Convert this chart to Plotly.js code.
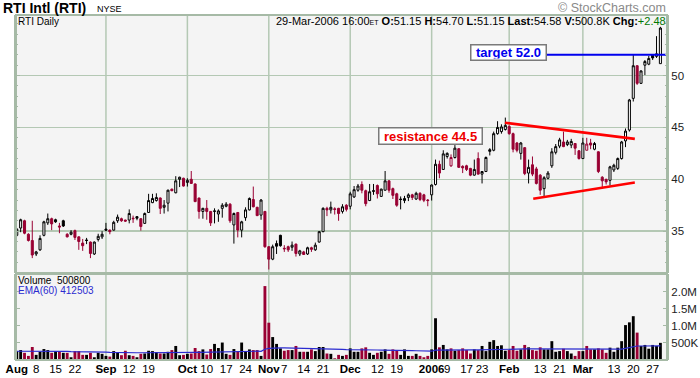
<!DOCTYPE html>
<html>
<head>
<meta charset="utf-8">
<script src="https://cdn.plot.ly/plotly-3.0.1.min.js"></script>
<style>html,body{margin:0;padding:0;background:#fff;}#chart{width:700px;height:378px;}</style>
</head>
<body>
<div id="chart"></div>
<script>
// ---------- DATA ----------
const dates = [
"2005-08-01","2005-08-02","2005-08-03","2005-08-04","2005-08-05","2005-08-08","2005-08-09","2005-08-10","2005-08-11","2005-08-12",
"2005-08-15","2005-08-16","2005-08-17","2005-08-18","2005-08-19","2005-08-22","2005-08-23","2005-08-24","2005-08-25","2005-08-26",
"2005-08-29","2005-08-30","2005-08-31",
"2005-09-01","2005-09-02","2005-09-06","2005-09-07","2005-09-08","2005-09-09","2005-09-12","2005-09-13","2005-09-14","2005-09-15",
"2005-09-16","2005-09-19","2005-09-20","2005-09-21","2005-09-22","2005-09-23","2005-09-26","2005-09-27","2005-09-28","2005-09-29","2005-09-30",
"2005-10-03","2005-10-04","2005-10-05","2005-10-06","2005-10-07","2005-10-10","2005-10-11","2005-10-12","2005-10-13","2005-10-14",
"2005-10-17","2005-10-18","2005-10-19","2005-10-20","2005-10-21","2005-10-24","2005-10-25","2005-10-26","2005-10-27","2005-10-28","2005-10-31",
"2005-11-01","2005-11-02","2005-11-03","2005-11-04","2005-11-07","2005-11-08","2005-11-09","2005-11-10","2005-11-11","2005-11-14",
"2005-11-15","2005-11-16","2005-11-17","2005-11-18","2005-11-21","2005-11-22","2005-11-23","2005-11-25","2005-11-28","2005-11-29","2005-11-30",
"2005-12-01","2005-12-02","2005-12-05","2005-12-06","2005-12-07","2005-12-08","2005-12-09","2005-12-12","2005-12-13","2005-12-14",
"2005-12-15","2005-12-16","2005-12-19","2005-12-20","2005-12-21","2005-12-22","2005-12-23","2005-12-27","2005-12-28","2005-12-29","2005-12-30",
"2006-01-03","2006-01-04","2006-01-05","2006-01-06","2006-01-09","2006-01-10","2006-01-11","2006-01-12","2006-01-13","2006-01-17",
"2006-01-18","2006-01-19","2006-01-20","2006-01-23","2006-01-24","2006-01-25","2006-01-26","2006-01-27","2006-01-30","2006-01-31",
"2006-02-01","2006-02-02","2006-02-03","2006-02-06","2006-02-07","2006-02-08","2006-02-09","2006-02-10","2006-02-13","2006-02-14",
"2006-02-15","2006-02-16","2006-02-17","2006-02-21","2006-02-22","2006-02-23","2006-02-24","2006-02-27","2006-02-28",
"2006-03-01","2006-03-02","2006-03-03","2006-03-06","2006-03-07","2006-03-08","2006-03-09","2006-03-10","2006-03-13","2006-03-14",
"2006-03-15","2006-03-16","2006-03-17","2006-03-20","2006-03-21","2006-03-22","2006-03-23","2006-03-24","2006-03-27","2006-03-28","2006-03-29"
];

const openP = [
34.6,35.3,36.0,34.7,34.1,32.8,33.2,34.6,35.8,36.2,36.1,35.5,36.0,34.7,34.7,35.05,34.45,33.85,34.15,33.95,
32.8,34.2,34.45,35.2,35.1,35.1,36.0,36.2,36.07,36.07,36.25,36.4,36.2,35.75,36.8,37.75,37.95,38.2,37.3,37.7,
39.05,38.7,40.0,40.1,39.7,40.0,39.55,38.2,36.9,37.2,36.9,36.95,36.65,37.2,37.4,37.6,35.6,36.8,35.1,36.3,
37.05,38.05,37.3,36.55,36.9,33.5,32.3,33.8,34.6,33.35,33.5,33.45,33.75,32.8,33.0,32.8,33.4,33.2,33.95,34.95,
37.2,37.05,37.15,37.2,36.9,37.5,37.4,38.3,38.95,39.5,38.9,37.95,38.9,39.4,38.35,38.95,39.85,39.1,38.6,38.1,
37.95,38.25,38.5,38.1,38.65,38.5,38.0,38.5,39.5,41.45,40.95,42.2,41.3,42.1,42.95,41.25,41.3,41.05,40.4,42.0,
40.5,40.75,42.85,42.8,44.4,44.6,44.8,45.1,44.4,43.5,42.5,43.05,40.6,41.4,41.0,40.4,39.1,40.1,41.3,42.6,
43.2,43.6,43.35,43.3,43.45,42.75,42.0,42.8,43.5,42.9,42.65,40.2,40.0,39.9,40.9,41.05,42.0,43.7,44.75,47.8,
50.95,49.25,51.0,51.1,52.0,51.85,51.15
];
const highP = [
35.3,36.2,36.1,34.8,36.0,33.1,34.6,36.0,36.7,36.3,36.2,35.8,36.1,34.8,35.1,35.15,34.5,34.25,34.35,34.0,
34.0,34.75,35.0,35.8,35.15,36.0,36.6,36.3,36.1,37.1,36.5,36.45,36.25,36.8,38.6,38.6,38.65,38.25,38.0,39.0,
39.1,40.3,40.25,40.15,40.1,40.8,39.6,38.2,37.25,38.0,36.95,37.2,37.1,37.7,37.8,37.7,36.8,36.85,36.0,37.3,
38.25,39.3,37.35,38.1,36.95,33.55,33.7,34.1,34.65,33.65,33.6,34.0,33.8,33.2,33.1,33.5,33.5,33.9,35.0,37.3,
37.35,37.85,37.3,37.25,37.6,37.6,38.8,39.35,39.55,39.8,39.0,39.55,39.55,39.5,39.1,40.8,39.9,39.2,38.7,38.35,
38.4,38.65,38.6,38.8,38.75,38.6,38.1,39.5,41.9,41.8,42.8,42.6,42.4,43.3,43.0,41.35,41.4,41.1,41.9,42.6,
40.8,42.2,43.0,44.6,45.6,45.3,45.95,45.2,44.5,43.6,43.6,43.1,41.9,42.2,41.2,40.5,40.3,40.8,43.0,43.4,
44.0,44.6,43.8,43.9,43.5,42.8,44.0,44.0,43.9,43.6,42.7,40.3,40.05,41.3,41.5,42.1,43.7,44.9,47.75,52.0,
51.0,50.5,51.5,51.9,52.05,53.8,54.7
];
const lowP = [
34.5,34.9,34.7,34.0,32.4,32.6,33.1,34.5,35.6,35.1,35.8,34.8,35.4,34.4,34.6,34.15,33.2,33.1,33.75,32.4,
32.7,34.0,34.25,35.0,34.7,35.05,35.8,35.9,35.9,35.75,35.8,36.05,35.05,35.7,36.8,37.7,37.85,36.65,36.7,36.9,
38.85,38.65,39.25,39.3,39.3,39.55,37.8,36.2,36.2,36.1,35.5,35.75,35.9,36.3,37.3,35.8,33.8,34.4,34.4,36.0,
37.0,37.3,36.45,36.1,33.4,31.3,32.2,32.8,33.5,33.0,33.0,33.1,32.55,32.6,32.7,32.7,33.0,33.1,33.9,34.9,
36.45,36.7,36.6,36.0,36.7,36.9,37.1,38.2,38.8,38.65,37.4,37.9,38.5,38.15,38.3,38.9,38.7,38.1,37.35,37.1,
37.7,37.9,38.0,38.0,37.9,37.8,37.4,37.95,39.4,40.1,40.9,42.0,41.2,42.0,41.1,40.6,40.8,40.3,40.35,40.45,
39.6,40.7,42.3,42.7,44.3,44.4,44.7,44.3,42.6,42.6,41.9,40.4,39.6,40.3,39.5,38.5,38.3,40.0,41.1,42.4,
43.0,43.1,43.2,43.0,42.35,41.9,41.95,42.8,42.9,42.8,40.6,39.1,39.5,39.4,40.7,40.9,41.9,43.1,44.6,47.5,
49.1,49.2,50.05,51.0,51.5,51.7,51.15
];
const closeP = [
35.2,36.1,34.8,34.1,32.7,33.0,34.3,35.9,36.2,35.7,35.9,35.4,35.5,34.45,34.9,34.4,34.0,33.6,34.1,32.85,
33.95,34.5,34.7,35.1,34.95,35.85,36.35,36.0,35.97,36.7,36.2,36.25,35.45,36.7,37.95,38.15,38.25,37.2,37.5,38.95,
38.9,39.85,40.2,39.35,39.9,39.6,37.85,36.9,37.2,36.9,35.8,36.92,36.95,37.5,37.6,36.0,36.7,35.1,35.9,37.05,
38.15,37.35,36.5,38.0,33.5,32.3,33.5,33.55,33.6,33.3,33.2,33.65,32.85,33.1,32.75,33.4,33.25,33.65,34.95,37.2,
37.05,37.3,37.1,36.7,37.35,37.1,38.6,39.0,39.35,38.95,37.65,38.8,38.85,38.6,39.05,39.85,38.95,38.45,37.5,38.05,
38.15,38.5,38.25,38.65,38.05,37.98,37.95,39.45,41.45,40.6,42.45,42.5,42.1,43.0,41.15,41.1,40.95,40.4,40.95,40.5,
40.75,42.1,42.7,44.4,45.0,45.05,45.2,44.4,42.9,42.8,43.5,40.55,41.15,40.5,39.6,38.95,40.15,40.6,42.65,43.15,
43.8,43.15,43.6,43.65,43.0,42.0,43.5,43.4,43.3,43.45,40.75,39.85,39.75,41.2,41.35,42.0,43.6,44.65,47.65,50.95,
49.25,50.45,51.35,51.65,51.7,52.1,54.58
];
// volume in thousands of shares
const volumeK = [
260,290,210,120,380,150,240,320,290,210,260,260,210,210,80,260,260,150,150,210,
80,210,180,120,100,260,210,140,270,140,120,80,180,190,270,260,230,190,190,240,
290,410,140,150,180,190,350,260,310,160,320,470,350,510,180,150,320,260,510,260,
310,290,290,120,2160,1090,670,470,340,270,290,290,410,240,240,240,310,260,380,380,
190,180,50,150,120,150,340,240,240,340,370,210,150,210,240,310,180,310,270,150,
310,120,120,180,120,80,120,310,1220,370,440,310,340,270,290,340,290,190,310,290,
410,260,530,580,410,430,270,290,410,270,310,440,370,290,270,370,310,310,550,240,
260,330,260,190,120,260,260,410,310,310,340,310,210,360,240,360,550,1020,1100,1280,
800,410,440,330,440,410,500.8
];
const emaStartK = 255;   // EMA(60) level at the left edge
const emaPeriod = 60;

// x-axis labels
const tickDates = ["2005-08-01","2005-08-08","2005-08-15","2005-08-22","2005-09-01","2005-09-12","2005-09-19",
"2005-10-03","2005-10-10","2005-10-17","2005-10-24","2005-11-01","2005-11-07","2005-11-14","2005-11-21",
"2005-12-01","2005-12-12","2005-12-19","2006-01-03","2006-01-09","2006-01-17","2006-01-23",
"2006-02-01","2006-02-13","2006-02-21","2006-03-01","2006-03-13","2006-03-20","2006-03-27"];
const tickText = ["<b>Aug</b>","8","15","22","<b>Sep</b>","12","19","<b>Oct</b>","10","17","24","<b>Nov</b>","7","14","21",
"<b>Dec</b>","12","19","<b>2006</b>","9","17","23","<b>Feb</b>","13","21","<b>Mar</b>","13","20","27"];
const monthStarts = ["2005-09-01","2005-10-03","2005-11-01","2005-12-01","2006-01-03","2006-02-01","2006-03-01"];
const priceTicks = [35,40,45,50];
const volTicks = [500,1000,1500,2000];
const volTickText = ["500K","1.0M","1.5M","2.0M"];

// drawn trend lines (trading-day position, price)
const upperTrendX = [125.9, 159.4], upperTrendY = [45.45, 43.9];
const lowerTrendX = [133.2, 159.4], lowerTrendY = [38.13, 39.7];
const targetX = [136.7, 168.5], targetY = [52.0, 52.0];

// ---------- BUILD ----------
const RED = '#990033', GRID = '#b4c8b4', FRAME = '#a6baa6';
const FONT = 'Liberation Sans, Arial, sans-serif';
const idx = dates.map((d, i) => i);
const isUp = closeP.map((c, i) => i === 0 || c >= closeP[i - 1]);

function subset(flag) {
  const o = {x: [], open: [], high: [], low: [], close: []};
  idx.forEach(i => {
    if (isUp[i] === flag) {
      o.x.push(i); o.open.push(openP[i]); o.high.push(highP[i]); o.low.push(lowP[i]); o.close.push(closeP[i]);
    }
  });
  return o;
}
const up = subset(true), dn = subset(false);

const ema = [];
const a = 2 / (emaPeriod + 1);
volumeK.forEach((v, i) => { ema.push(i === 0 ? emaStartK + a * (v - emaStartK) : ema[i - 1] + a * (v - ema[i - 1])); });

const traces = [
  {type: 'bar', x: idx, y: volumeK, xaxis: 'x', yaxis: 'y2', width: 0.74,
   marker: {color: isUp.map(u => u ? '#000000' : RED), line: {width: 0}}, hoverinfo: 'skip'},
  {type: 'scatter', mode: 'lines', x: idx, y: ema, xaxis: 'x', yaxis: 'y2',
   line: {color: '#2b2bd0', width: 1.2}, hoverinfo: 'skip'},
  Object.assign({type: 'candlestick', xaxis: 'x', yaxis: 'y', whiskerwidth: 0, hoverinfo: 'skip',
   increasing: {line: {color: '#000000', width: 1}, fillcolor: '#ffffff'},
   decreasing: {line: {color: '#000000', width: 1}, fillcolor: '#000000'}}, up),
  Object.assign({type: 'candlestick', xaxis: 'x', yaxis: 'y', whiskerwidth: 0, hoverinfo: 'skip',
   increasing: {line: {color: RED, width: 1}, fillcolor: '#ffffff'},
   decreasing: {line: {color: RED, width: 1}, fillcolor: RED}}, dn),
  {type: 'scatter', mode: 'lines', x: upperTrendX, y: upperTrendY, xaxis: 'x', yaxis: 'y',
   line: {color: '#ff0000', width: 2.6}, hoverinfo: 'skip'},
  {type: 'scatter', mode: 'lines', x: lowerTrendX, y: lowerTrendY, xaxis: 'x', yaxis: 'y',
   line: {color: '#ff0000', width: 2.6}, hoverinfo: 'skip'},
  {type: 'scatter', mode: 'lines', x: targetX, y: targetY, xaxis: 'x', yaxis: 'y',
   line: {color: '#0000ee', width: 2}, hoverinfo: 'skip'}
];

// pixel helpers for text placement (plot area 16..667 x 15..360)
const L = 16, T = 15, W = 651, H = 345;
const px = x => (x - L) / W, py = y => (T + H - y) / H;
const PRICE_DOM = [0.252, 1], VOL_DOM = [0, 0.249];

const shapes = [];
monthStarts.forEach(d => {
  shapes.push({type: 'line', xref: 'x', yref: 'paper', x0: dates.indexOf(d), x1: dates.indexOf(d), y0: 0, y1: 1,
    line: {color: GRID, width: 1.5}, layer: 'below'});
});
shapes.push({type: 'rect', xref: 'paper', yref: 'paper', x0: 0, x1: 1, y0: PRICE_DOM[0], y1: PRICE_DOM[1],
  line: {color: FRAME, width: 2}, layer: 'above'});
shapes.push({type: 'rect', xref: 'paper', yref: 'paper', x0: 0, x1: 1, y0: VOL_DOM[0], y1: VOL_DOM[1],
  line: {color: FRAME, width: 2}, layer: 'above'});

const ann = (text, x, y, opt) => Object.assign({text, xref: 'paper', yref: 'paper', x: px(x), y: py(y),
  showarrow: false, xanchor: 'left', yanchor: 'middle', font: {family: FONT, size: 10, color: '#000'}}, opt || {});

const annotations = [
  ann('<b>RTI Intl (RTI)</b>', 1, 8, {font: {family: FONT, size: 14, color: '#000'}}),
  ann('NYSE', 95, 9, {font: {family: FONT, size: 9, color: '#000'}}),
  ann('© StockCharts.com', 668, 8, {xanchor: 'right', font: {family: FONT, size: 12.5, color: '#8a8a8a'}}),
  ann('RTI Daily', 16, 21, {font: {family: FONT, size: 10, color: '#000'}}),
  ann('29-Mar-2006 16:00<span style="font-size:7px">ET</span> <b>O:</b>51.15 <b>H:</b>54.70 <b>L:</b>51.15 <b>Last:</b>54.58 <b>V:</b>500.8K <b>Chg:</b><span style="color:#007700">+2.48</span>',
      668, 21, {xanchor: 'right', font: {family: FONT, size: 11, color: '#000'}}),
  ann('Volume  500800', 16, 280, {font: {family: FONT, size: 10, color: '#000'}}),
  ann('EMA(60) 412503', 16, 290.5, {font: {family: FONT, size: 10, color: '#2b2bd0'}}),
  ann('<b>resistance 44.5</b>', 430.5, 135.5, {xanchor: 'center', font: {family: FONT, size: 13, color: '#ee0000'},
      bgcolor: '#ffffff', bordercolor: '#7a7a7a', borderwidth: 1.5, borderpad: 1, width: 100, height: 13}),
  ann('<b>target 52.0</b>', 508.7, 53, {xanchor: 'center', font: {family: FONT, size: 13, color: '#0000ee'},
      bgcolor: '#ffffff', bordercolor: '#7a7a7a', borderwidth: 1.5, borderpad: 1, width: 72, height: 12})
];

const layout = {
  width: 700, height: 378,
  margin: {l: L, r: 700 - L - W, t: T, b: 378 - T - H, pad: 0},
  paper_bgcolor: '#ffffff', plot_bgcolor: '#f4f4f4',
  showlegend: false, boxgap: 0.25, bargap: 0.2,
  xaxis: {domain: [0, 1], anchor: 'y2', range: [-0.2, 167.7], tickmode: 'array',
    tickvals: tickDates.map(d => dates.indexOf(d)), ticktext: tickText, tickangle: 0,
    showgrid: false, zeroline: false, showline: false, ticks: '',
    tickfont: {family: FONT, size: 11.5, color: '#000'}, rangeslider: {visible: false}, fixedrange: true},
  yaxis: {domain: PRICE_DOM, anchor: 'x', side: 'right', range: [30.96, 55.84], tickmode: 'array', tickvals: priceTicks,
    showgrid: true, gridcolor: GRID, gridwidth: 1.5, zeroline: false, showline: true, linecolor: FRAME, linewidth: 2,
    mirror: 'ticks', ticks: 'inside', ticklen: 4, tickcolor: FRAME, tickwidth: 1,
    minor: {dtick: 1, tick0: 0, ticks: 'inside', ticklen: 2, tickcolor: FRAME, showgrid: false},
    tickfont: {family: FONT, size: 11.5, color: '#222'}, fixedrange: true},
  yaxis2: {domain: VOL_DOM, anchor: 'x', side: 'right', range: [0, 2510], tickmode: 'array', tickvals: volTicks,
    ticktext: volTickText, showgrid: false, zeroline: false, showline: true, linecolor: FRAME, linewidth: 2,
    mirror: 'ticks', ticks: 'inside', ticklen: 4, tickcolor: FRAME,
    tickfont: {family: FONT, size: 11.5, color: '#222'}, fixedrange: true},
  shapes, annotations
};

Plotly.newPlot('chart', traces, layout, {staticPlot: true, displayModeBar: false});
</script>
</body>
</html>
